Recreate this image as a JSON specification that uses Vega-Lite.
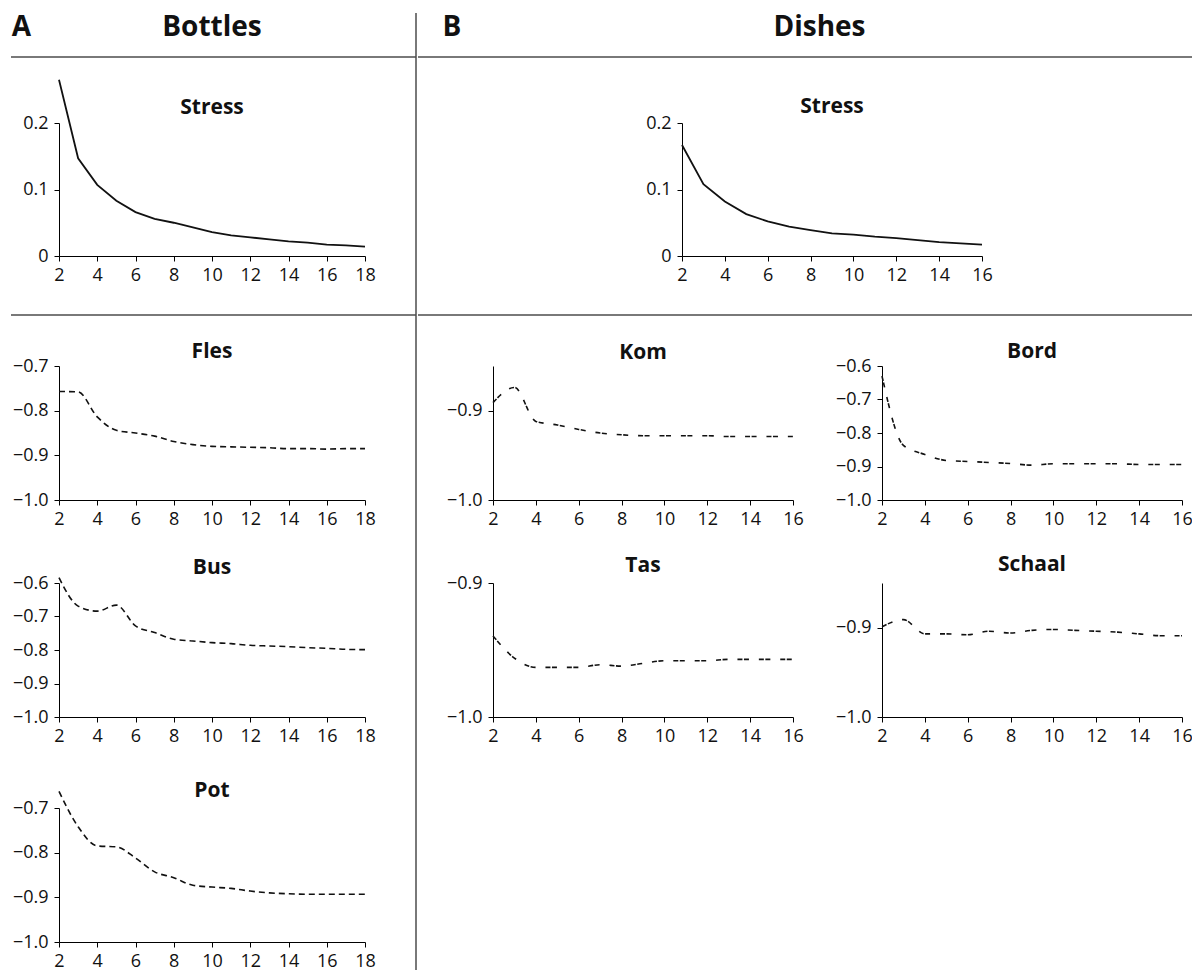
{
"$schema": "https://vega.github.io/schema/vega-lite/v6.json",
"padding": {"left": 10, "top": 12, "right": 0, "bottom": 0},
"config": {
  "view": {"stroke": null},
  "font": "Open Sans",
  "axis": {"domainColor": "#000", "tickColor": "#000", "tickSize": 5, "labelFontSize": 18, "labelColor": "#111", "labelFont": "Open Sans", "grid": false, "title": null},
  "axisX": {"labelPadding": 5, "labelFlush": false},
  "axisY": {"labelPadding": 6},
  "title": {"fontSize": 21, "fontWeight": "bold", "font": "Open Sans", "offset": 7, "color": "#111", "anchor": "middle"}
},
"spacing": 0,
"hconcat": [
 {
  "columns": 3, "spacing": 0, "bounds": "flush", "align": "each",
  "concat": [
   {"width": 48, "height": 44, "data": {"values": [{"label": "A"}]}, "layer": [
     {"mark": {"type": "text", "fontSize": 28, "fontWeight": "bold", "baseline": "alphabetic", "align": "center", "dx": -13.5, "dy": 1, "color": "#111"}, "encoding": {"text": {"field": "label"}}},
     {"mark": {"type": "rule", "color": "#4d4d4d", "strokeWidth": 1.5}, "encoding": {"y": {"datum": 0, "type": "quantitative", "scale": {"domain": [0, 1]}, "axis": null}}}]},
   {"width": 306, "height": 44, "data": {"values": [{"label": "Bottles"}]}, "layer": [
     {"mark": {"type": "text", "fontSize": 28, "fontWeight": "bold", "baseline": "alphabetic", "align": "center", "dy": 1, "color": "#111"}, "encoding": {"text": {"field": "label"}}},
     {"mark": {"type": "rule", "color": "#4d4d4d", "strokeWidth": 1.5}, "encoding": {"y": {"datum": 0, "type": "quantitative", "scale": {"domain": [0, 1]}, "axis": null}}}]},
   {"width": 51, "height": 44, "data": {"values": [{}]}, "layer": [
     {"mark": {"type": "rule", "color": "#4d4d4d", "strokeWidth": 1.5}, "encoding": {"y": {"datum": 0, "type": "quantitative", "scale": {"domain": [0, 1]}, "axis": null}}},
     {"mark": {"type": "rule", "color": "#4d4d4d", "strokeWidth": 1.5}, "encoding": {"x": {"datum": 1, "type": "quantitative", "scale": {"domain": [0, 1]}, "axis": null}}}]},

   {"width": 48, "height": 66, "data": {"values": []}, "mark": {"type": "point", "opacity": 0}},
   {"width": 306, "height": 66, "data": {"values": []}, "mark": {"type": "point", "opacity": 0}},
   {"width": 51, "height": 66, "data": {"values": [{}]}, "mark": {"type": "rule", "color": "#4d4d4d", "strokeWidth": 1.5}, "encoding": {"x": {"datum": 1, "type": "quantitative", "scale": {"domain": [0, 1]}, "axis": null}}},

   {"width": 48, "height": 133, "data": {"values": []}, "mark": {"type": "point", "opacity": 0}},
   {"width": 306, "height": 133, "title": {"text": "Stress", "offset": -42},
    "data": {"values": [
      {"dimensions": 2, "value": 0.265}, {"dimensions": 3, "value": 0.147}, {"dimensions": 4, "value": 0.107}, {"dimensions": 5, "value": 0.083},
      {"dimensions": 6, "value": 0.066}, {"dimensions": 7, "value": 0.056}, {"dimensions": 8, "value": 0.050}, {"dimensions": 9, "value": 0.043},
      {"dimensions": 10, "value": 0.036}, {"dimensions": 11, "value": 0.031}, {"dimensions": 12, "value": 0.028}, {"dimensions": 13, "value": 0.025},
      {"dimensions": 14, "value": 0.022}, {"dimensions": 15, "value": 0.020}, {"dimensions": 16, "value": 0.017}, {"dimensions": 17, "value": 0.016},
      {"dimensions": 18, "value": 0.014}]},
    "mark": {"type": "line", "color": "#111", "strokeWidth": 1.8},
    "encoding": {
      "x": {"field": "dimensions", "type": "quantitative", "scale": {"domain": [2, 18], "nice": false, "zero": false}, "axis": {"values": [2, 4, 6, 8, 10, 12, 14, 16, 18]}},
      "y": {"field": "value", "type": "quantitative", "scale": {"domain": [0, 0.2], "nice": false}, "axis": {"values": [0, 0.1, 0.2], "format": ".1~f"}}}},
   {"width": 51, "height": 133, "data": {"values": [{}]}, "mark": {"type": "rule", "color": "#4d4d4d", "strokeWidth": 1.5}, "encoding": {"x": {"datum": 1, "type": "quantitative", "scale": {"domain": [0, 1]}, "axis": null}}},

   {"width": 48, "height": 59, "data": {"values": [{}]}, "mark": {"type": "rule", "color": "#4d4d4d", "strokeWidth": 1.5}, "encoding": {"y": {"datum": 0, "type": "quantitative", "scale": {"domain": [0, 1]}, "axis": null}}},
   {"width": 306, "height": 59, "data": {"values": [{}]}, "mark": {"type": "rule", "color": "#4d4d4d", "strokeWidth": 1.5}, "encoding": {"y": {"datum": 0, "type": "quantitative", "scale": {"domain": [0, 1]}, "axis": null}}},
   {"width": 51, "height": 59, "data": {"values": [{}]}, "layer": [
     {"mark": {"type": "rule", "color": "#4d4d4d", "strokeWidth": 1.5}, "encoding": {"y": {"datum": 0, "type": "quantitative", "scale": {"domain": [0, 1]}, "axis": null}}},
     {"mark": {"type": "rule", "color": "#4d4d4d", "strokeWidth": 1.5}, "encoding": {"x": {"datum": 1, "type": "quantitative", "scale": {"domain": [0, 1]}, "axis": null}}}]},

   {"width": 48, "height": 51, "data": {"values": []}, "mark": {"type": "point", "opacity": 0}},
   {"width": 306, "height": 51, "data": {"values": []}, "mark": {"type": "point", "opacity": 0}},
   {"width": 51, "height": 51, "data": {"values": [{}]}, "mark": {"type": "rule", "color": "#4d4d4d", "strokeWidth": 1.5}, "encoding": {"x": {"datum": 1, "type": "quantitative", "scale": {"domain": [0, 1]}, "axis": null}}},

   {"width": 48, "height": 217, "data": {"values": []}, "mark": {"type": "point", "opacity": 0}},
   {"width": 306, "height": 134, "title": {"text": "Fles", "offset": -5},
    "data": {"values": [
      {"dimensions": 2, "value": -0.757}, {"dimensions": 3, "value": -0.758}, {"dimensions": 4, "value": -0.814}, {"dimensions": 5, "value": -0.844},
      {"dimensions": 6, "value": -0.850}, {"dimensions": 7, "value": -0.857}, {"dimensions": 8, "value": -0.869}, {"dimensions": 9, "value": -0.876},
      {"dimensions": 10, "value": -0.880}, {"dimensions": 11, "value": -0.881}, {"dimensions": 12, "value": -0.882}, {"dimensions": 13, "value": -0.883},
      {"dimensions": 14, "value": -0.885}, {"dimensions": 15, "value": -0.885}, {"dimensions": 16, "value": -0.886}, {"dimensions": 17, "value": -0.885},
      {"dimensions": 18, "value": -0.885}]},
    "mark": {"type": "line", "color": "#111", "strokeWidth": 1.6, "interpolate": "monotone", "strokeDash": [6, 4]},
    "encoding": {
      "x": {"field": "dimensions", "type": "quantitative", "scale": {"domain": [2, 18], "nice": false, "zero": false}, "axis": {"values": [2, 4, 6, 8, 10, 12, 14, 16, 18]}},
      "y": {"field": "value", "type": "quantitative", "scale": {"domain": [-1, -0.7], "nice": false, "zero": false}, "axis": {"values": [-1, -0.9, -0.8, -0.7], "format": ".1f"}}}},
   {"width": 51, "height": 217, "data": {"values": [{}]}, "mark": {"type": "rule", "color": "#4d4d4d", "strokeWidth": 1.5}, "encoding": {"x": {"datum": 1, "type": "quantitative", "scale": {"domain": [0, 1]}, "axis": null}}},

   {"width": 48, "height": 225, "data": {"values": []}, "mark": {"type": "point", "opacity": 0}},
   {"width": 306, "height": 134, "title": {"text": "Bus", "offset": -4},
    "data": {"values": [
      {"dimensions": 2, "value": -0.584}, {"dimensions": 3, "value": -0.669}, {"dimensions": 4, "value": -0.684}, {"dimensions": 5, "value": -0.666},
      {"dimensions": 6, "value": -0.728}, {"dimensions": 7, "value": -0.748}, {"dimensions": 8, "value": -0.768}, {"dimensions": 9, "value": -0.773},
      {"dimensions": 10, "value": -0.778}, {"dimensions": 11, "value": -0.781}, {"dimensions": 12, "value": -0.786}, {"dimensions": 13, "value": -0.788},
      {"dimensions": 14, "value": -0.790}, {"dimensions": 15, "value": -0.793}, {"dimensions": 16, "value": -0.795}, {"dimensions": 17, "value": -0.798},
      {"dimensions": 18, "value": -0.799}]},
    "mark": {"type": "line", "color": "#111", "strokeWidth": 1.6, "interpolate": "monotone", "strokeDash": [6, 4]},
    "encoding": {
      "x": {"field": "dimensions", "type": "quantitative", "scale": {"domain": [2, 18], "nice": false, "zero": false}, "axis": {"values": [2, 4, 6, 8, 10, 12, 14, 16, 18]}},
      "y": {"field": "value", "type": "quantitative", "scale": {"domain": [-1, -0.6], "nice": false, "zero": false}, "axis": {"values": [-1, -0.9, -0.8, -0.7, -0.6], "format": ".1f"}}}},
   {"width": 51, "height": 225, "data": {"values": [{}]}, "mark": {"type": "rule", "color": "#4d4d4d", "strokeWidth": 1.5}, "encoding": {"x": {"datum": 1, "type": "quantitative", "scale": {"domain": [0, 1]}, "axis": null}}},

   {"width": 48, "height": 163, "data": {"values": []}, "mark": {"type": "point", "opacity": 0}},
   {"width": 306, "height": 134, "title": {"text": "Pot", "offset": -13},
    "data": {"values": [
      {"dimensions": 2, "value": -0.663}, {"dimensions": 3, "value": -0.742}, {"dimensions": 4, "value": -0.785}, {"dimensions": 5, "value": -0.787},
      {"dimensions": 6, "value": -0.812}, {"dimensions": 7, "value": -0.843}, {"dimensions": 8, "value": -0.856}, {"dimensions": 9, "value": -0.873},
      {"dimensions": 10, "value": -0.877}, {"dimensions": 11, "value": -0.880}, {"dimensions": 12, "value": -0.886}, {"dimensions": 13, "value": -0.890},
      {"dimensions": 14, "value": -0.892}, {"dimensions": 15, "value": -0.893}, {"dimensions": 16, "value": -0.893}, {"dimensions": 17, "value": -0.893},
      {"dimensions": 18, "value": -0.893}]},
    "mark": {"type": "line", "color": "#111", "strokeWidth": 1.6, "interpolate": "monotone", "strokeDash": [6, 4]},
    "encoding": {
      "x": {"field": "dimensions", "type": "quantitative", "scale": {"domain": [2, 18], "nice": false, "zero": false}, "axis": {"values": [2, 4, 6, 8, 10, 12, 14, 16, 18]}},
      "y": {"field": "value", "type": "quantitative", "scale": {"domain": [-1, -0.7], "nice": false, "zero": false}, "axis": {"values": [-1, -0.9, -0.8, -0.7], "format": ".1f"}}}},
   {"width": 51, "height": 163, "data": {"values": [{}]}, "mark": {"type": "rule", "color": "#4d4d4d", "strokeWidth": 1.5}, "encoding": {"x": {"datum": 1, "type": "quantitative", "scale": {"domain": [0, 1]}, "axis": null}}}
  ]
 },
 {
  "spacing": 0,
  "vconcat": [
   {
    "columns": 4, "spacing": 0, "bounds": "flush", "align": "each",
    "concat": [
     {"width": 68, "height": 44, "data": {"values": [{"label": "B"}]}, "layer": [
       {"mark": {"type": "text", "fontSize": 28, "fontWeight": "bold", "baseline": "alphabetic", "align": "center", "dy": 1, "color": "#111"}, "encoding": {"text": {"field": "label"}}},
       {"mark": {"type": "rule", "color": "#4d4d4d", "strokeWidth": 1.5}, "encoding": {"y": {"datum": 0, "type": "quantitative", "scale": {"domain": [0, 1]}, "axis": null}}}]},
     {"width": 196, "height": 44, "data": {"values": [{}]}, "mark": {"type": "rule", "color": "#4d4d4d", "strokeWidth": 1.5}, "encoding": {"y": {"datum": 0, "type": "quantitative", "scale": {"domain": [0, 1]}, "axis": null}}},
     {"width": 300, "height": 44, "data": {"values": [{"label": "Dishes"}]}, "layer": [
       {"mark": {"type": "text", "fontSize": 28, "fontWeight": "bold", "baseline": "alphabetic", "align": "center", "dx": -12.5, "dy": 1, "color": "#111"}, "encoding": {"text": {"field": "label"}}},
       {"mark": {"type": "rule", "color": "#4d4d4d", "strokeWidth": 1.5}, "encoding": {"y": {"datum": 0, "type": "quantitative", "scale": {"domain": [0, 1]}, "axis": null}}}]},
     {"width": 212, "height": 44, "data": {"values": [{}]}, "mark": {"type": "rule", "color": "#4d4d4d", "strokeWidth": 1.5}, "encoding": {"y": {"datum": 0, "type": "quantitative", "scale": {"domain": [0, 1]}, "axis": null}}},

     {"width": 68, "height": 66, "data": {"values": []}, "mark": {"type": "point", "opacity": 0}},
     {"width": 196, "height": 66, "data": {"values": []}, "mark": {"type": "point", "opacity": 0}},
     {"width": 300, "height": 66, "data": {"values": []}, "mark": {"type": "point", "opacity": 0}},
     {"width": 212, "height": 66, "data": {"values": []}, "mark": {"type": "point", "opacity": 0}},

     {"width": 68, "height": 133, "data": {"values": []}, "mark": {"type": "point", "opacity": 0}},
     {"width": 196, "height": 133, "data": {"values": []}, "mark": {"type": "point", "opacity": 0}},
     {"width": 300, "height": 133, "title": {"text": "Stress", "offset": -3},
      "data": {"values": [
        {"dimensions": 2, "value": 0.167}, {"dimensions": 3, "value": 0.108}, {"dimensions": 4, "value": 0.082}, {"dimensions": 5, "value": 0.063},
        {"dimensions": 6, "value": 0.052}, {"dimensions": 7, "value": 0.044}, {"dimensions": 8, "value": 0.039}, {"dimensions": 9, "value": 0.034},
        {"dimensions": 10, "value": 0.032}, {"dimensions": 11, "value": 0.029}, {"dimensions": 12, "value": 0.027}, {"dimensions": 13, "value": 0.024},
        {"dimensions": 14, "value": 0.021}, {"dimensions": 15, "value": 0.019}, {"dimensions": 16, "value": 0.017}]},
      "mark": {"type": "line", "color": "#111", "strokeWidth": 1.8},
      "encoding": {
        "x": {"field": "dimensions", "type": "quantitative", "scale": {"domain": [2, 16], "nice": false, "zero": false}, "axis": {"values": [2, 4, 6, 8, 10, 12, 14, 16]}},
        "y": {"field": "value", "type": "quantitative", "scale": {"domain": [0, 0.2], "nice": false}, "axis": {"values": [0, 0.1, 0.2], "format": ".1~f"}}}},
     {"width": 212, "height": 133, "data": {"values": []}, "mark": {"type": "point", "opacity": 0}},

     {"width": 68, "height": 59, "data": {"values": [{}]}, "mark": {"type": "rule", "color": "#4d4d4d", "strokeWidth": 1.5}, "encoding": {"y": {"datum": 0, "type": "quantitative", "scale": {"domain": [0, 1]}, "axis": null}}},
     {"width": 196, "height": 59, "data": {"values": [{}]}, "mark": {"type": "rule", "color": "#4d4d4d", "strokeWidth": 1.5}, "encoding": {"y": {"datum": 0, "type": "quantitative", "scale": {"domain": [0, 1]}, "axis": null}}},
     {"width": 300, "height": 59, "data": {"values": [{}]}, "mark": {"type": "rule", "color": "#4d4d4d", "strokeWidth": 1.5}, "encoding": {"y": {"datum": 0, "type": "quantitative", "scale": {"domain": [0, 1]}, "axis": null}}},
     {"width": 212, "height": 59, "data": {"values": [{}]}, "mark": {"type": "rule", "color": "#4d4d4d", "strokeWidth": 1.5}, "encoding": {"y": {"datum": 0, "type": "quantitative", "scale": {"domain": [0, 1]}, "axis": null}}}
    ]
   },
   {
    "columns": 4, "spacing": 0, "bounds": "flush", "align": "each",
    "concat": [
     {"width": 75, "height": 50, "data": {"values": []}, "mark": {"type": "point", "opacity": 0}},
     {"width": 300, "height": 50, "data": {"values": []}, "mark": {"type": "point", "opacity": 0}},
     {"width": 89, "height": 50, "data": {"values": []}, "mark": {"type": "point", "opacity": 0}},
     {"width": 300, "height": 50, "data": {"values": []}, "mark": {"type": "point", "opacity": 0}},

     {"width": 75, "height": 217, "data": {"values": []}, "mark": {"type": "point", "opacity": 0}},
     {"width": 300, "height": 134, "title": {"text": "Kom", "offset": 3},
      "data": {"values": [
        {"dimensions": 2, "value": -0.891}, {"dimensions": 3, "value": -0.874}, {"dimensions": 4, "value": -0.912}, {"dimensions": 5, "value": -0.916},
        {"dimensions": 6, "value": -0.921}, {"dimensions": 7, "value": -0.925}, {"dimensions": 8, "value": -0.927}, {"dimensions": 9, "value": -0.928},
        {"dimensions": 10, "value": -0.928}, {"dimensions": 11, "value": -0.928}, {"dimensions": 12, "value": -0.928}, {"dimensions": 13, "value": -0.929},
        {"dimensions": 14, "value": -0.929}, {"dimensions": 15, "value": -0.929}, {"dimensions": 16, "value": -0.929}]},
      "mark": {"type": "line", "color": "#111", "strokeWidth": 1.6, "interpolate": "monotone", "strokeDash": [5, 1.5, 5, 9.9]},
      "encoding": {
        "x": {"field": "dimensions", "type": "quantitative", "scale": {"domain": [2, 16], "nice": false, "zero": false}, "axis": {"values": [2, 4, 6, 8, 10, 12, 14, 16]}},
        "y": {"field": "value", "type": "quantitative", "scale": {"domain": [-1, -0.85], "nice": false, "zero": false}, "axis": {"values": [-1, -0.9], "format": ".1f"}}}},
     {"width": 89, "height": 217, "data": {"values": []}, "mark": {"type": "point", "opacity": 0}},
     {"width": 300, "height": 134, "title": {"text": "Bord", "offset": -5},
      "data": {"values": [
        {"dimensions": 2, "value": -0.63}, {"dimensions": 3, "value": -0.837}, {"dimensions": 4, "value": -0.864}, {"dimensions": 5, "value": -0.882},
        {"dimensions": 6, "value": -0.885}, {"dimensions": 7, "value": -0.888}, {"dimensions": 8, "value": -0.891}, {"dimensions": 9, "value": -0.896},
        {"dimensions": 10, "value": -0.892}, {"dimensions": 11, "value": -0.892}, {"dimensions": 12, "value": -0.892}, {"dimensions": 13, "value": -0.892},
        {"dimensions": 14, "value": -0.894}, {"dimensions": 15, "value": -0.894}, {"dimensions": 16, "value": -0.894}]},
      "mark": {"type": "line", "color": "#111", "strokeWidth": 1.6, "interpolate": "monotone", "strokeDash": [5, 1.5, 5, 9.9]},
      "encoding": {
        "x": {"field": "dimensions", "type": "quantitative", "scale": {"domain": [2, 16], "nice": false, "zero": false}, "axis": {"values": [2, 4, 6, 8, 10, 12, 14, 16]}},
        "y": {"field": "value", "type": "quantitative", "scale": {"domain": [-1, -0.6], "nice": false, "zero": false}, "axis": {"values": [-1, -0.9, -0.8, -0.7, -0.6], "format": ".1f"}}}},

     {"width": 75, "height": 134, "data": {"values": []}, "mark": {"type": "point", "opacity": 0}},
     {"width": 300, "height": 134, "title": {"text": "Tas", "offset": -2},
      "data": {"values": [
        {"dimensions": 2, "value": -0.9395}, {"dimensions": 3, "value": -0.956}, {"dimensions": 4, "value": -0.963}, {"dimensions": 5, "value": -0.963},
        {"dimensions": 6, "value": -0.963}, {"dimensions": 7, "value": -0.961}, {"dimensions": 8, "value": -0.962}, {"dimensions": 9, "value": -0.960},
        {"dimensions": 10, "value": -0.958}, {"dimensions": 11, "value": -0.958}, {"dimensions": 12, "value": -0.958}, {"dimensions": 13, "value": -0.957},
        {"dimensions": 14, "value": -0.957}, {"dimensions": 15, "value": -0.957}, {"dimensions": 16, "value": -0.957}]},
      "mark": {"type": "line", "color": "#111", "strokeWidth": 1.6, "interpolate": "monotone", "strokeDash": [5, 1.5, 5, 9.9]},
      "encoding": {
        "x": {"field": "dimensions", "type": "quantitative", "scale": {"domain": [2, 16], "nice": false, "zero": false}, "axis": {"values": [2, 4, 6, 8, 10, 12, 14, 16]}},
        "y": {"field": "value", "type": "quantitative", "scale": {"domain": [-1, -0.9], "nice": false, "zero": false}, "axis": {"values": [-1, -0.9], "format": ".1f"}}}},
     {"width": 89, "height": 134, "data": {"values": []}, "mark": {"type": "point", "opacity": 0}},
     {"width": 300, "height": 134, "title": {"text": "Schaal", "offset": 8},
      "data": {"values": [
        {"dimensions": 2, "value": -0.899}, {"dimensions": 3, "value": -0.891}, {"dimensions": 4, "value": -0.907}, {"dimensions": 5, "value": -0.907},
        {"dimensions": 6, "value": -0.908}, {"dimensions": 7, "value": -0.904}, {"dimensions": 8, "value": -0.906}, {"dimensions": 9, "value": -0.903},
        {"dimensions": 10, "value": -0.902}, {"dimensions": 11, "value": -0.903}, {"dimensions": 12, "value": -0.904}, {"dimensions": 13, "value": -0.905},
        {"dimensions": 14, "value": -0.907}, {"dimensions": 15, "value": -0.909}, {"dimensions": 16, "value": -0.909}]},
      "mark": {"type": "line", "color": "#111", "strokeWidth": 1.6, "interpolate": "monotone", "strokeDash": [5, 1.5, 5, 9.9]},
      "encoding": {
        "x": {"field": "dimensions", "type": "quantitative", "scale": {"domain": [2, 16], "nice": false, "zero": false}, "axis": {"values": [2, 4, 6, 8, 10, 12, 14, 16]}},
        "y": {"field": "value", "type": "quantitative", "scale": {"domain": [-1, -0.85], "nice": false, "zero": false}, "axis": {"values": [-1, -0.9], "format": ".1f"}}}}
    ]
   }
  ]
 }
]
}
